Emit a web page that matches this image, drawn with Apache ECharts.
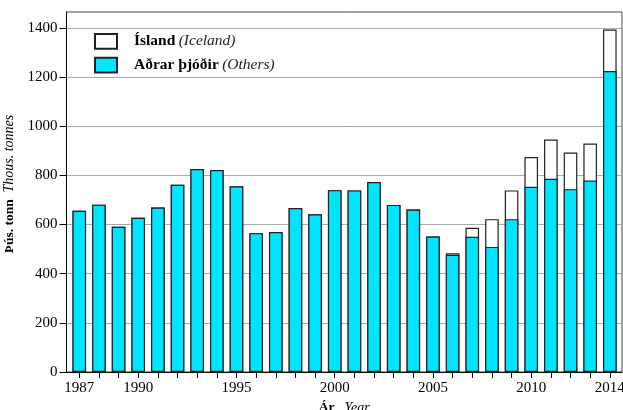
<!DOCTYPE html>
<html>
<head>
<meta charset="utf-8">
<script src="https://cdn.jsdelivr.net/npm/echarts@6/dist/echarts.min.js"></script>
<style>html,body{margin:0;padding:0;background:#fff;}#c{width:623px;height:410px;}</style>
</head>
<body>
<div id="c"></div>
<script>
const years = [1987,1988,1989,1990,1991,1992,1993,1994,1995,1996,1997,1998,1999,2000,2001,2002,2003,2004,2005,2006,2007,2008,2009,2010,2011,2012,2013,2014];
const others = [656,681,591,628,669,762,826,822,756,565,570,667,642,740,739,773,680,661,551,477,550,509,622,754,786,744,779,1225];
const iceland = [0,0,0,0,0,0,0,0,0,0,0,0,0,0,0,0,0,0,0,6,37,113,117,121,160,149,151,169];
const xLabelYears = [1987,1990,1995,2000,2005,2010,2014];
const yTicks = [0,200,400,600,800,1000,1200,1400];
const seriesNames = ['Ísland','Aðrar þjóðir'];
const seriesNamesEn = ['Iceland','Others'];
const yTitle = ['Þús. tonn','Thous. tonnes'];
const xTitle = ['Ár','Year'];

// total height of each stacked bar (Others + Iceland)
const totals = years.map((y, i) => others[i] + iceland[i]);

const FONT = 'Liberation Serif';
const chart = echarts.init(document.getElementById('c'));
const rich = {
  b: {fontFamily: FONT, fontWeight: 'bold', fontSize: 13.5, color: '#000'},
  i: {fontFamily: FONT, fontStyle: 'italic', fontSize: 14, color: '#000'}
};
chart.setOption({
  animation: false,
  backgroundColor: '#fff',
  grid: {left: 66.5, right: 1, top: 12, bottom: 38, show: true, borderColor: '#444', borderWidth: 1, outerBoundsMode: 'none', containLabel: false},
  legend: {
    orient: 'vertical', left: 94, top: 33, padding: 0, itemGap: 7,
    itemWidth: 22, itemHeight: 14.7, icon: 'rect',
    data: seriesNames,
    formatter: function (name) {
      const k = seriesNames.indexOf(name);
      return '{b|' + name + '} {i|(' + seriesNamesEn[k] + ')}';
    },
    textStyle: {
      rich: {
        b: {fontFamily: FONT, fontWeight: 'bold', fontSize: 15.5, color: '#000', padding: [0,0,0,12]},
        i: {fontFamily: FONT, fontStyle: 'italic', fontSize: 15.5, color: '#222'}
      }
    }
  },
  xAxis: {
    type: 'value', min: 1986.35, max: 2014.62,
    name: '{b|' + xTitle[0] + '}   {i|' + xTitle[1] + '}',
    nameLocation: 'middle', nameGap: 25,
    nameTextStyle: {rich: rich},
    axisLine: {show: true, lineStyle: {color: '#000', width: 1}},
    axisTick: {show: true, length: 6, customValues: years, lineStyle: {color: '#000'}},
    axisLabel: {customValues: xLabelYears, formatter: v => String(v), fontFamily: FONT, fontSize: 15, color: '#000', margin: 9},
    splitLine: {show: false}
  },
  yAxis: {
    type: 'value', min: 0, max: 1465, interval: 200,
    name: '{b|' + yTitle[0] + '}  {i|' + yTitle[1] + '}',
    nameLocation: 'middle', nameGap: 43, nameRotate: 90,
    nameTextStyle: {rich: rich, padding: [0, 0, 0, 16]},
    axisLine: {show: true, lineStyle: {color: '#000', width: 1}},
    axisTick: {show: true, inside: false, length: 7, customValues: yTicks, lineStyle: {color: '#000'}},
    axisLabel: {customValues: yTicks, formatter: v => String(v), fontFamily: FONT, fontSize: 15, color: '#000', margin: 9},
    splitLine: {show: true, lineStyle: {color: '#aaa', width: 1}}
  },
  series: [
    {
      name: seriesNames[0], type: 'bar', barWidth: 13.6, barGap: '-100%', z: 2,
      itemStyle: {color: '#fff', borderColor: '#222', borderWidth: 1.2},
      data: years.map((y, i) => [y, totals[i]])
    },
    {
      name: seriesNames[1], type: 'bar', barWidth: 13.6, barGap: '-100%', z: 3,
      itemStyle: {color: '#00e5ff', borderColor: '#222', borderWidth: 1.2},
      data: years.map((y, i) => [y, others[i]])
    }
  ]
});
</script>
</body>
</html>
